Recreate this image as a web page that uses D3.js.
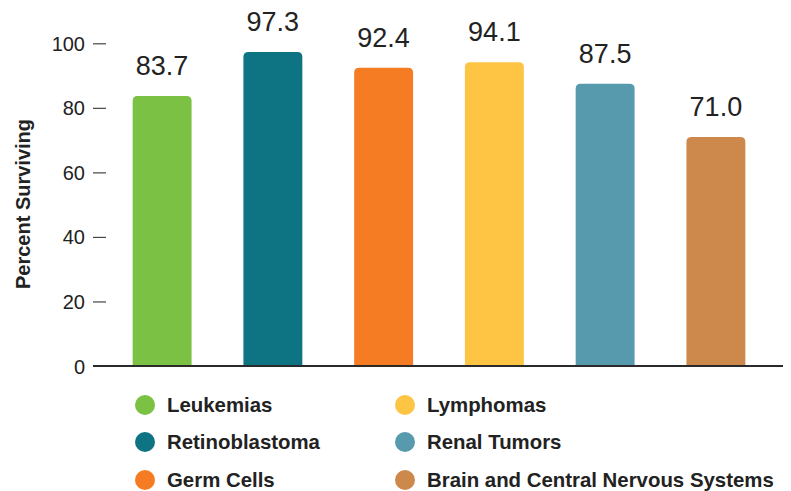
<!DOCTYPE html>
<html>
<head>
<meta charset="utf-8">
<script src="https://cdn.jsdelivr.net/npm/d3@7"></script>
<style>
  html, body { margin: 0; padding: 0; background: #fff; }
  svg { display: block; font-family: "Liberation Sans", Arial, Helvetica, sans-serif; }
</style>
</head>
<body>
<svg id="chart" width="791" height="491"></svg>
<script>
// Five-year survival by childhood cancer type
const categories = ["Leukemias", "Retinoblastoma", "Germ Cells", "Lymphomas", "Renal Tumors", "Brain and Central Nervous Systems"];
const values = [83.7, 97.3, 92.4, 94.1, 87.5, 71.0];
const colors = ["#7bc143", "#0e7483", "#f57c22", "#fec545", "#5799ad", "#cd894b"];
const yTicks = [0, 20, 40, 60, 80, 100];
const yTitle = "Percent Surviving";

const svg = d3.select("#chart");

const x = d3.scaleBand()
  .domain(categories)
  .range([95, 783])
  .paddingInner(0.468)
  .paddingOuter(0.34);

const y = d3.scaleLinear()
  .domain([0, 100])
  .range([366, 43.3]);

// y axis: short tick marks, no domain line
const yAxis = d3.axisLeft(y)
  .tickValues(yTicks)
  .tickSize(13)
  .tickPadding(8)
  .tickFormat(d3.format("d"));

const gy = svg.append("g")
  .attr("transform", "translate(106,0)")
  .call(yAxis);
gy.select(".domain").remove();
gy.selectAll(".tick line").attr("stroke", "#444").attr("stroke-width", 1.2);
gy.selectAll(".tick text")
  .attr("fill", "#222")
  .style("font-size", "20px")
  .attr("dy", "0.35em");
// no tick mark at zero; the baseline takes its place
gy.selectAll(".tick").filter(d => d === 0).select("line").remove();

// axis title
svg.append("text")
  .attr("transform", "translate(30,204) rotate(-90)")
  .attr("text-anchor", "middle")
  .attr("fill", "#222")
  .style("font-size", "20px")
  .style("font-weight", "bold")
  .text(yTitle);

// bars with rounded top corners
const r = 5;
function barPath(d, i) {
  const x0 = x(categories[i]), w = x.bandwidth();
  const top = y(d), bottom = y(0);
  return `M${x0},${bottom}V${top + r}Q${x0},${top} ${x0 + r},${top}` +
         `H${x0 + w - r}Q${x0 + w},${top} ${x0 + w},${top + r}V${bottom}Z`;
}

svg.append("g")
  .selectAll("path")
  .data(values)
  .join("path")
  .attr("d", barPath)
  .attr("fill", (d, i) => colors[i]);

// value labels
svg.append("g")
  .selectAll("text")
  .data(values)
  .join("text")
  .attr("x", (d, i) => x(categories[i]) + x.bandwidth() / 2)
  .attr("y", d => y(d) - 21)
  .attr("text-anchor", "middle")
  .attr("fill", "#222")
  .style("font-size", "27px")
  .text(d => d3.format(".1f")(d));

// baseline
svg.append("line")
  .attr("x1", 93).attr("x2", 783)
  .attr("y1", y(0)).attr("y2", y(0))
  .attr("stroke", "#2a2a2a")
  .attr("stroke-width", 2);

// legend in two columns of three
const legendCols = [145, 405];
const legendRows = [405, 442, 480];
const legend = svg.append("g")
  .selectAll("g")
  .data(categories)
  .join("g")
  .attr("transform", (d, i) => `translate(${legendCols[Math.floor(i / 3)]},${legendRows[i % 3]})`);

legend.append("circle")
  .attr("r", 10)
  .attr("fill", (d, i) => colors[i]);

legend.append("text")
  .attr("x", 22)
  .attr("dy", "0.36em")
  .attr("fill", "#222")
  .style("font-size", "20.4px")
  .style("font-weight", "bold")
  .text(d => d);
</script>
</body>
</html>
